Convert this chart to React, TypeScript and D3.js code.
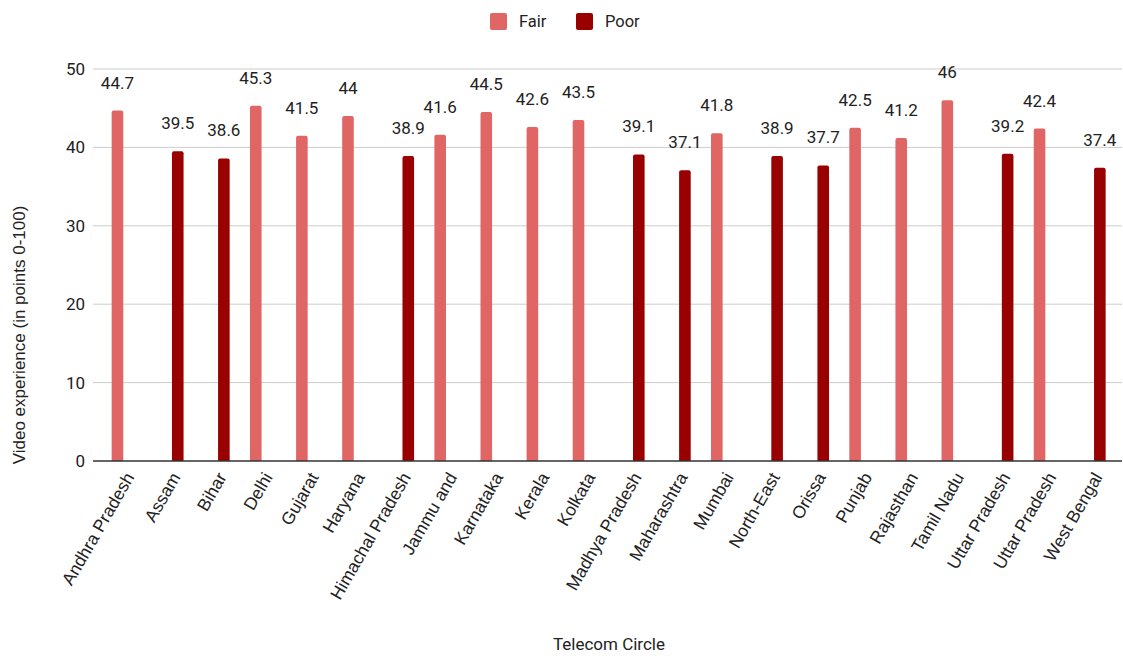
import React from 'react';
import { useRef, useEffect } from 'react';
import { select, scaleLinear, scaleBand } from 'd3';

// telecom circles, left to right
const circles = [
  'Andhra Pradesh', 'Assam', 'Bihar', 'Delhi', 'Gujarat', 'Haryana',
  'Himachal Pradesh', 'Jammu and', 'Karnataka', 'Kerala', 'Kolkata',
  'Madhya Pradesh', 'Maharashtra', 'Mumbai', 'North-East', 'Orissa',
  'Punjab', 'Rajasthan', 'Tamil Nadu', 'Uttar Pradesh', 'Uttar Pradesh',
  'West Bengal',
];
const seriesNames = ['Fair', 'Poor'];
const seriesColors = ['#e06666', '#990000'];
// null = no bar for that rating
const fairValues = [44.7, null, null, 45.3, 41.5, 44, null, 41.6, 44.5, 42.6, 43.5, null, null, 41.8, null, null, 42.5, 41.2, 46, null, 42.4, null];
const poorValues = [null, 39.5, 38.6, null, null, null, 38.9, null, null, null, null, 39.1, 37.1, null, 38.9, 37.7, null, null, null, 39.2, null, 37.4];
const yTicks = [0, 10, 20, 30, 40, 50];

const W = 1123;
const H = 659;
const FONT = 'Roboto, Arial, sans-serif';
const ARIAL = '"Liberation Sans", Arial, sans-serif';

function BarChart() {
  const svgRef = useRef<SVGSVGElement>(null);

  useEffect(() => {
    const svg = select(svgRef.current);
    svg.selectAll('*').remove();

    const plotTop = 69;
    const plotBottom = 461;
    const gridLeft = 93;
    const gridRight = 1122;

    const xScale = scaleBand().domain(circles.map((c, i) => String(i))).range([101.5, 1115.8]).padding(0);
    const x1 = scaleBand().domain(seriesNames).range([0, xScale.bandwidth()]).paddingInner(0.183).paddingOuter(0.715);
    const yScale = scaleLinear().domain([0, 50]).range([plotBottom, plotTop]);

    // gridlines + y labels
    svg.append('g')
      .selectAll('line')
      .data(yTicks.filter(t => t > 0))
      .join('line')
      .attr('x1', gridLeft).attr('x2', gridRight)
      .attr('y1', d => yScale(d)).attr('y2', d => yScale(d))
      .attr('stroke', '#cccccc').attr('stroke-width', 1);

    svg.append('g')
      .selectAll('text')
      .data(yTicks)
      .join('text')
      .attr('x', 85)
      .attr('y', d => yScale(d))
      .attr('dy', '0.35em')
      .attr('text-anchor', 'end')
      .attr('font-family', FONT).attr('font-size', 17).attr('fill', '#222')
      .text(d => d);

    const rows = seriesNames.map((name, s) => ({
      name,
      color: seriesColors[s],
      values: (s === 0 ? fairValues : poorValues)
        .map((v, i) => ({ i, v }))
        .filter(d => d.v !== null) as { i: number; v: number }[],
    }));

    rows.forEach(row => {
      const g = svg.append('g');
      g.selectAll('path')
        .data(row.values)
        .join('path')
        .attr('fill', row.color)
        .attr('d', d => {
          const x0 = (xScale(String(d.i)) as number) + (x1(row.name) as number);
          const w = x1.bandwidth();
          const y0 = yScale(d.v);
          const r = 2;
          return `M${x0},${plotBottom}V${y0 + r}Q${x0},${y0} ${x0 + r},${y0}H${x0 + w - r}Q${x0 + w},${y0} ${x0 + w},${y0 + r}V${plotBottom}Z`;
        });

      g.selectAll('text')
        .data(row.values)
        .join('text')
        .attr('x', d => (xScale(String(d.i)) as number) + (x1(row.name) as number) + x1.bandwidth() / 2)
        .attr('y', d => yScale(d.v) - 22)
        .attr('text-anchor', 'middle')
        .attr('font-family', FONT).attr('font-size', 17).attr('fill', '#222')
        .text(d => d.v);
    });

    // baseline
    svg.append('line')
      .attr('x1', gridLeft).attr('x2', gridRight)
      .attr('y1', plotBottom).attr('y2', plotBottom)
      .attr('stroke', '#333').attr('stroke-width', 1.5);

    // rotated category labels
    svg.append('g')
      .selectAll('text')
      .data(circles)
      .join('text')
      .attr('transform', (d, i) => `translate(${(xScale(String(i)) as number) + xScale.bandwidth() / 2 + 5},${474}) rotate(-60)`)
      .attr('dy', '0.35em')
      .attr('text-anchor', 'end')
      .attr('font-family', ARIAL).attr('font-size', 17.5).attr('fill', '#222')
      .text(d => d);

    // axis titles
    svg.append('text')
      .attr('x', 609).attr('y', 650)
      .attr('text-anchor', 'middle')
      .attr('font-family', FONT).attr('font-size', 17).attr('fill', '#222')
      .text('Telecom Circle');

    svg.append('text')
      .attr('transform', `translate(25,335) rotate(-90)`)
      .attr('text-anchor', 'middle')
      .attr('font-family', ARIAL).attr('font-size', 17).attr('fill', '#222')
      .text('Video experience (in points 0-100)');

    // legend
    const legendX = [490, 576];
    const legend = svg.append('g');
    seriesNames.forEach((name, s) => {
      legend.append('rect')
        .attr('x', legendX[s]).attr('y', 13)
        .attr('width', 17).attr('height', 17).attr('rx', 2)
        .attr('fill', seriesColors[s]);
      legend.append('text')
        .attr('x', legendX[s] + 29).attr('y', 21.5)
        .attr('dy', '0.35em')
        .attr('font-family', FONT).attr('font-size', 16.5).attr('fill', '#222')
        .text(name);
    });
  }, []);

  return (
    <svg ref={svgRef} width={W} height={H}
      style={{ position: 'absolute', left: 0, top: 0, background: '#fff' }} />
  );
}

export default function App() {
  return <BarChart />;
}
